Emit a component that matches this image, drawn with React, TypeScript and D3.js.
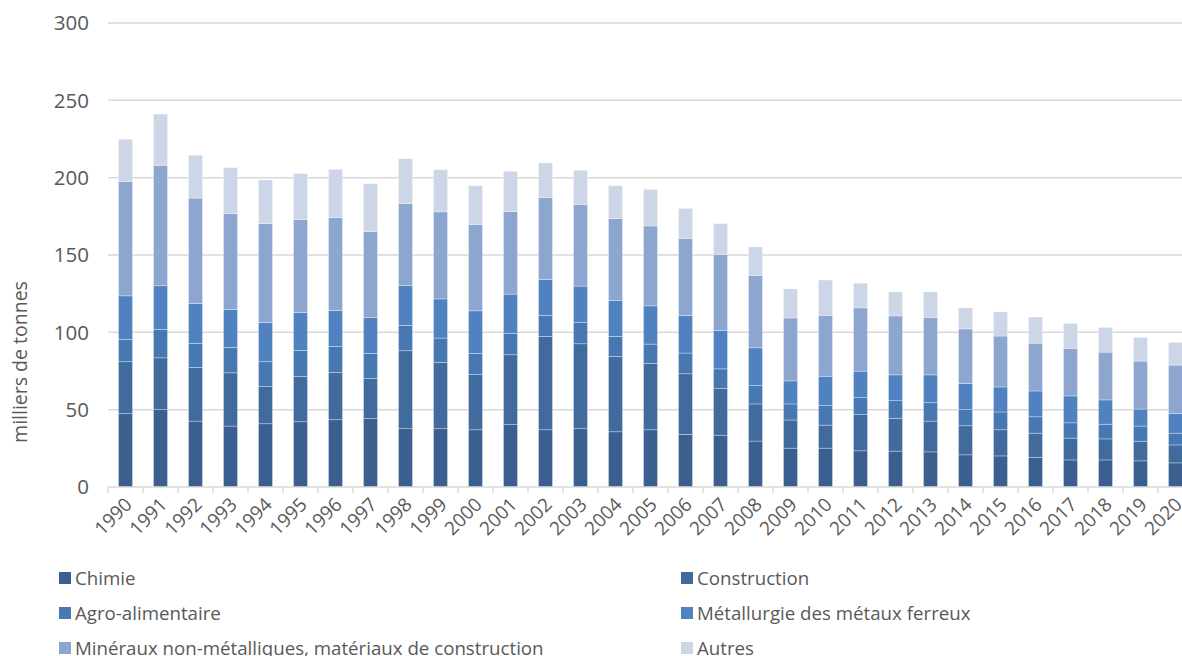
import React from 'react';
import * as d3 from 'd3';

const years = d3.range(1990, 2021).map(String);

const seriesNames = [
  'Chimie',
  'Construction',
  'Agro-alimentaire',
  'Métallurgie des métaux ferreux',
  'Minéraux non-métalliques, matériaux de construction',
  'Autres',
];

const seriesColors = ['#3b5f8e', '#416a9d', '#4778b1', '#4f82bf', '#8ca6cf', '#cdd6e7'];

// valeurs en milliers de tonnes
const chimie = [47.4, 50.0, 42.6, 39.4, 40.9, 42.2, 43.5, 44.2, 37.7, 37.7, 37.0, 40.3, 37.0, 37.7, 35.7, 37.0,
  34.0, 33.5, 29.7, 25.1, 25.1, 23.4, 23.2, 22.7, 20.8, 20.1, 19.2, 17.5, 17.5, 16.9, 15.6];
const construction = [33.6, 33.5, 34.7, 34.4, 24.0, 29.2, 30.5, 25.9, 50.4, 42.8, 35.7, 45.2, 60.4, 54.9, 48.7, 42.9,
  39.2, 30.1, 24.0, 18.2, 14.9, 23.4, 21.2, 19.9, 18.8, 16.9, 15.6, 14.1, 13.6, 12.7, 11.6];
const agro = [14.5, 18.4, 15.6, 16.5, 16.1, 16.9, 16.9, 16.3, 16.4, 15.8, 13.7, 13.9, 13.6, 13.9, 13.0, 12.5,
  13.4, 12.8, 11.9, 10.4, 12.6, 11.0, 11.4, 11.9, 10.4, 11.5, 10.6, 9.9, 9.5, 9.8, 7.6];
const metallurgie = [28.1, 28.2, 25.7, 24.4, 25.3, 24.5, 23.2, 23.1, 25.8, 25.3, 27.5, 25.3, 23.2, 23.4, 23.2, 24.7,
  24.2, 24.7, 24.4, 14.9, 19.0, 17.1, 16.7, 18.0, 16.9, 16.2, 16.7, 17.4, 15.7, 11.0, 12.6];
const mineraux = [74.0, 77.9, 68.2, 62.1, 64.0, 60.1, 60.1, 55.7, 53.0, 56.3, 55.8, 53.4, 53.0, 52.8, 53.0, 51.7,
  50.0, 49.3, 46.8, 40.7, 39.4, 40.9, 38.1, 37.2, 35.3, 32.9, 30.9, 30.7, 30.9, 31.0, 31.4];
const autres = [27.3, 33.1, 27.7, 29.7, 28.2, 29.7, 31.2, 30.9, 29.0, 27.3, 25.1, 26.0, 22.3, 22.1, 21.2, 23.6,
  19.3, 19.9, 18.4, 18.8, 22.8, 16.0, 15.6, 16.5, 13.6, 15.6, 16.9, 16.2, 16.0, 15.3, 14.7];

const seriesValues = [chimie, construction, agro, metallurgie, mineraux, autres];
const yTicks = [0, 50, 100, 150, 200, 250, 300];

const W = 1182;
const H = 656;
const font = '"Open Sans", sans-serif';
const textColor = '#595959';

export default function App() {
  const left = 108;
  const step = 35;
  const x = d3.scaleBand<string>()
    .domain(years)
    .range([left, left + step * years.length])
    .paddingInner(0.6)
    .paddingOuter(0.3);
  const y = d3.scaleLinear().domain([0, 300]).range([487, 23]);

  const table = years.map((yr, i) => {
    const row: Record<string, number | string> = { year: yr };
    seriesNames.forEach((s, k) => { row[s] = seriesValues[k][i]; });
    return row;
  });
  const stacked = d3.stack<any>().keys(seriesNames)(table);

  const legendRows = [
    { x: 59, y: 578, k: 0 }, { x: 681, y: 578, k: 1 },
    { x: 59, y: 613, k: 2 }, { x: 681, y: 613, k: 3 },
    { x: 59, y: 648, k: 4 }, { x: 681, y: 648, k: 5 },
  ];

  return (
    <svg width={W} height={H} style={{ position: 'absolute', left: 0, top: 0, background: '#fff' }}
      fontFamily={font}>
      {yTicks.map(t => (
        <g key={t}>
          {t > 0 && <line x1={left} x2={W + 20} y1={y(t)} y2={y(t)} stroke="#d9d9d9" strokeWidth={1.5} />}
          <text x={89} y={y(t)} dy="0.35em" textAnchor="end" fontSize={20.5} fill={textColor}>{t}</text>
        </g>
      ))}
      <text transform={`translate(27,362) rotate(-90)`} textAnchor="middle" fontSize={19.5} fill={textColor}>
        milliers de tonnes
      </text>
      {stacked.map((layer, k) => (
        <g key={layer.key} fill={seriesColors[k]}>
          {layer.map((d, i) => (
            <rect key={i} x={x(years[i])} width={x.bandwidth()} y={y(d[1])} height={y(d[0]) - y(d[1])}
              stroke="#ffffff" strokeOpacity={0.45} strokeWidth={0.7} />
          ))}
        </g>
      ))}
      <line x1={left} x2={W + 20} y1={y(0)} y2={y(0)} stroke="#d9d9d9" strokeWidth={1.5} />
      {d3.range(years.length + 1).map(i => (
        <line key={i} x1={left + i * step} x2={left + i * step} y1={y(0)} y2={y(0) + 6} stroke="#d9d9d9" strokeWidth={1.5} />
      ))}
      {years.map(yr => {
        const cx = (x(yr) as number) + x.bandwidth() / 2;
        return (
          <text key={yr} transform={`translate(${cx + 3},${y(0) + 14}) rotate(-45)`} textAnchor="end"
            dy="0.35em" fontSize={19} fill={textColor}>{yr}</text>
        );
      })}
      {legendRows.map(r => (
        <g key={r.k}>
          <rect x={r.x} y={r.y - 6} width={12} height={12} fill={seriesColors[r.k]} />
          <text x={r.x + 16} y={r.y} dy="0.35em" fontSize={18.7} fill={textColor}>{seriesNames[r.k]}</text>
        </g>
      ))}
    </svg>
  );
}
